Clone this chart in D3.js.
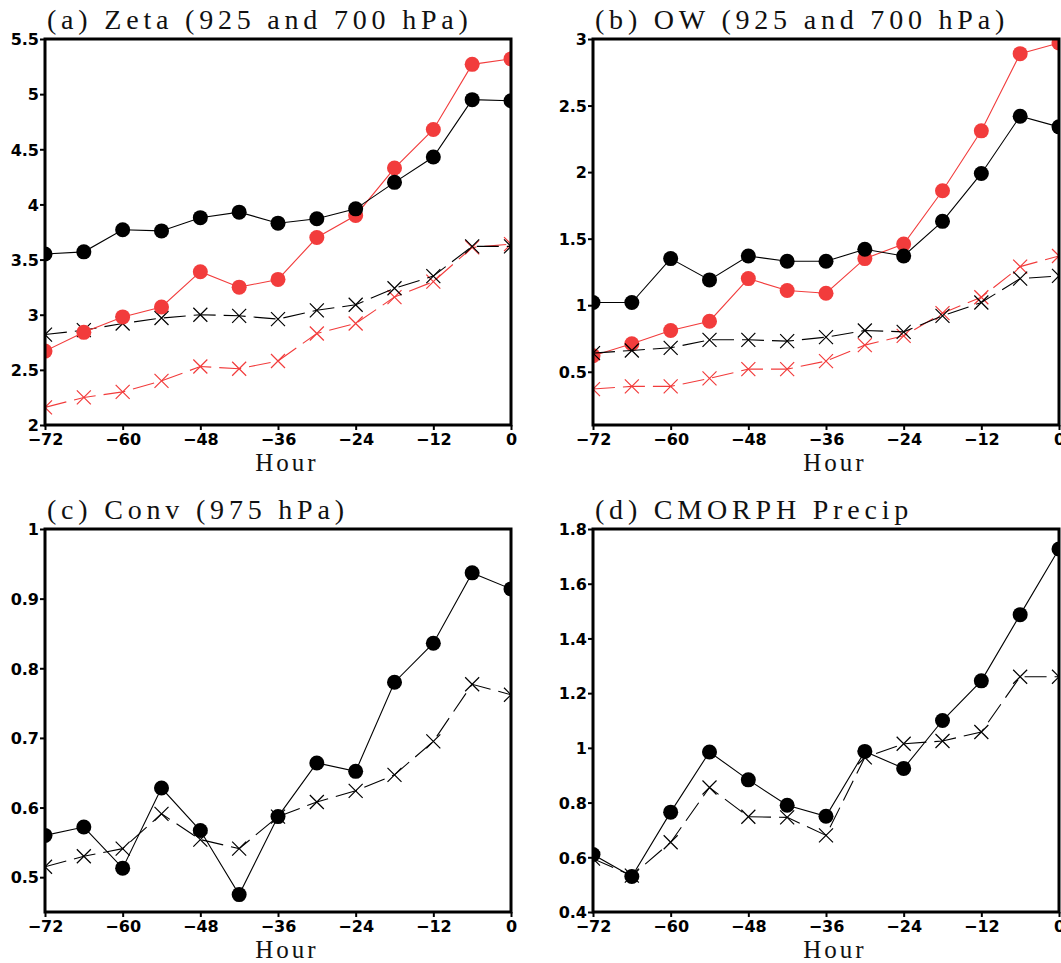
<!DOCTYPE html>
<meta charset="utf-8">
<script src="https://d3js.org/d3.v7.min.js"></script>
<style>
  body { margin: 0; background: #fff; }
  .title, .xlab { font-family: "Liberation Serif", "DejaVu Serif", serif; fill: #111; }
  .tick text { font-family: "DejaVu Sans", sans-serif; font-weight: bold; font-size: 16px; fill: #000; }
</style>
<body>
<div id="my_dataviz"></div>
<script>

// hours before genesis
var hours = [-72, -66, -60, -54, -48, -42, -36, -30, -24, -18, -12, -6, 0];
var xTicks = [-72, -60, -48, -36, -24, -12, 0];

// (a) Zeta
var zetaBlackDot = [3.55, 3.57, 3.77, 3.76, 3.88, 3.93, 3.83, 3.87, 3.96, 4.2, 4.43, 4.95, 4.94];
var zetaRedDot   = [2.67, 2.84, 2.98, 3.07, 3.39, 3.25, 3.32, 3.7, 3.9, 4.33, 4.68, 5.27, 5.32];
var zetaBlackX   = [2.82, 2.86, 2.92, 2.97, 3.0, 2.99, 2.96, 3.04, 3.09, 3.24, 3.35, 3.62, 3.62];
var zetaRedX     = [2.16, 2.25, 2.3, 2.4, 2.53, 2.51, 2.58, 2.83, 2.92, 3.16, 3.3, 3.61, 3.64];
var zetaTicks = [2, 2.5, 3, 3.5, 4, 4.5, 5, 5.5];

// (b) OW
var owBlackDot = [1.02, 1.02, 1.35, 1.19, 1.37, 1.33, 1.33, 1.42, 1.37, 1.63, 1.99, 2.42, 2.34];
var owRedDot   = [0.62, 0.71, 0.81, 0.88, 1.2, 1.11, 1.09, 1.35, 1.46, 1.86, 2.31, 2.89, 2.97];
var owBlackX   = [0.64, 0.66, 0.68, 0.74, 0.74, 0.73, 0.76, 0.81, 0.8, 0.92, 1.02, 1.2, 1.22];
var owRedX     = [0.37, 0.39, 0.39, 0.45, 0.52, 0.52, 0.58, 0.7, 0.77, 0.94, 1.06, 1.29, 1.37];
var owTicks = [0.5, 1, 1.5, 2, 2.5, 3];

// (c) Conv
var convDot = [0.56, 0.572, 0.513, 0.628, 0.567, 0.475, 0.587, 0.664, 0.652, 0.78, 0.836, 0.937, 0.914];
var convX   = [0.515, 0.53, 0.541, 0.591, 0.554, 0.541, 0.587, 0.608, 0.624, 0.647, 0.695, 0.777, 0.762];
var convTicks = [0.5, 0.6, 0.7, 0.8, 0.9, 1];

// (d) CMORPH precip
var precipDot = [0.61, 0.53, 0.765, 0.985, 0.883, 0.79, 0.75, 0.987, 0.925, 1.1, 1.245, 1.487, 1.727];
var precipX   = [0.595, 0.533, 0.655, 0.855, 0.748, 0.746, 0.68, 0.965, 1.015, 1.025, 1.058, 1.26, 1.26];
var precipTicks = [0.4, 0.6, 0.8, 1, 1.2, 1.4, 1.6, 1.8];

var red = "#f23c3c";

var panels = [
  { title: "(a) Zeta (925 and 700 hPa)", left: 45, top: 39, h: 386, ydom: [2, 5.5], yticks: zetaTicks,
    series: [
      { v: zetaRedX, c: red, m: "x", dash: true },
      { v: zetaBlackX, c: "#000", m: "x", dash: true },
      { v: zetaRedDot, c: red, m: "o" },
      { v: zetaBlackDot, c: "#000", m: "o" }
    ] },
  { title: "(b) OW (925 and 700 hPa)", left: 593, top: 39, h: 386, ydom: [0.1, 3], yticks: owTicks,
    series: [
      { v: owRedX, c: red, m: "x", dash: true },
      { v: owRedDot, c: red, m: "o" },
      { v: owBlackDot, c: "#000", m: "o" },
      { v: owBlackX, c: "#000", m: "x", dash: true }
    ] },
  { title: "(c) Conv (975 hPa)", left: 45, top: 529, h: 383, ydom: [0.45, 1], yticks: convTicks,
    series: [
      { v: convX, c: "#000", m: "x", dash: true },
      { v: convDot, c: "#000", m: "o" }
    ] },
  { title: "(d) CMORPH Precip", left: 593, top: 529, h: 383, ydom: [0.4, 1.8], yticks: precipTicks,
    series: [
      { v: precipX, c: "#000", m: "x", dash: true },
      { v: precipDot, c: "#000", m: "o" }
    ] }
];

var W = 1061, H = 963, pw = 466;

var svg = d3.select("#my_dataviz")
  .append("svg")
  .attr("width", W)
  .attr("height", H);

panels.forEach(function (p, i) {
  var g = svg.append("g")
    .attr("transform", "translate(" + p.left + "," + p.top + ")");

  var x = d3.scaleLinear().domain([-72, 0]).range([0, pw]);
  var y = d3.scaleLinear().domain(p.ydom).range([p.h, 0]);

  g.append("clipPath").attr("id", "clip" + i)
    .append("rect").attr("width", pw).attr("height", p.h);

  var plot = g.append("g").attr("clip-path", "url(#clip" + i + ")");

  var line = d3.line()
    .x(function (d, j) { return x(hours[j]); })
    .y(function (d) { return y(d); });

  p.series.forEach(function (s) {
    plot.append("path")
      .datum(s.v)
      .attr("d", line)
      .attr("fill", "none")
      .attr("stroke", s.c)
      .attr("stroke-width", 1.1)
      .attr("stroke-dasharray", s.dash ? "22,8" : null);

    if (s.m == "o") {
      plot.selectAll(null)
        .data(s.v)
        .enter()
        .append("circle")
        .attr("cx", function (d, j) { return x(hours[j]); })
        .attr("cy", function (d) { return y(d); })
        .attr("r", 7.5)
        .attr("fill", s.c);
    } else {
      var sz = 7;
      plot.selectAll(null)
        .data(s.v)
        .enter()
        .append("path")
        .attr("d", function (d, j) {
          var cx = x(hours[j]), cy = y(d);
          return "M" + (cx - sz) + "," + (cy - sz) + "L" + (cx + sz) + "," + (cy + sz) +
                 "M" + (cx - sz) + "," + (cy + sz) + "L" + (cx + sz) + "," + (cy - sz);
        })
        .attr("stroke", s.c)
        .attr("stroke-width", 1.2)
        .attr("fill", "none");
    }
  });

  // axes
  var xa = g.append("g")
    .attr("transform", "translate(0," + p.h + ")")
    .call(d3.axisBottom(x).tickValues(xTicks).tickSize(5).tickPadding(4)
      .tickFormat(function (d) { return d < 0 ? "\u2212" + (-d) : "" + d; }));
  var ya = g.append("g")
    .call(d3.axisLeft(y).tickValues(p.yticks).tickSize(5).tickPadding(1)
      .tickFormat(function (d) { return "" + d; }));
  [xa, ya].forEach(function (a) {
    a.select(".domain").remove();
    a.selectAll(".tick line").attr("stroke", "#000").attr("stroke-width", 2);
  });
  ya.selectAll(".tick text").attr("dy", "0.36em");

  // frame
  g.append("rect")
    .attr("width", pw)
    .attr("height", p.h)
    .attr("fill", "none")
    .attr("stroke", "#000")
    .attr("stroke-width", 3);

  g.append("text")
    .attr("class", "title")
    .attr("x", 2)
    .attr("y", -10)
    .style("font-size", "28px")
    .style("letter-spacing", "4.8px")
    .text(p.title);

  g.append("text")
    .attr("class", "xlab")
    .attr("x", pw / 2 + 9)
    .attr("y", p.h + 46)
    .attr("text-anchor", "middle")
    .style("font-size", "25px")
    .style("letter-spacing", "3px")
    .text("Hour");
});

</script>
</body>
